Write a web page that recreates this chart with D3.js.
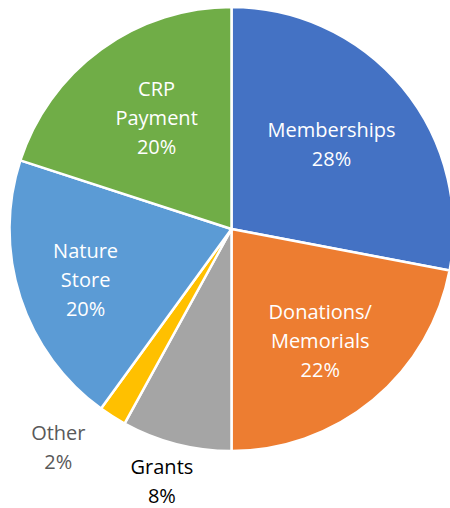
<!DOCTYPE html>
<html>
<head>
<meta charset="utf-8">
<script src="https://cdn.jsdelivr.net/npm/d3@7"></script>
<style>
  body { margin: 0; background: #fff; }
  svg { display: block; }
  text { font-family: "Open Sans", sans-serif; font-size: 20px; }
</style>
</head>
<body>
<script>
// data, clockwise from 12 o'clock
var categories = ["Memberships", "Donations/\nMemorials", "Grants", "Other", "Nature\nStore", "CRP\nPayment"];
var values = [28, 22, 8, 2, 20, 20];
var colors = ["#4472C4", "#ED7D31", "#A5A5A5", "#FFC000", "#5B9BD5", "#70AD47"];

// label placement: radius factor, extra nudge, colour
var labelK = [0.62, 0.62, 1.17, 1.17, 0.62, 0.62];
var labelNudge = [[-6, 3], [1, 6], [-5, 1], [-34, -1], [-15, 8], [6, 0]];
var labelColor = ["#fff", "#fff", "#000", "#595959", "#fff", "#fff"];

var width = 450, height = 508;
var cx = 231.5, cy = 229, radius = 222;
var lineH = 29;

var svg = d3.select("body").append("svg")
    .attr("width", width)
    .attr("height", height);

var g = svg.append("g")
    .attr("transform", "translate(" + cx + "," + cy + ")");

var data = categories.map(function(c, i){
    return {name: c, value: values[i], color: colors[i], idx: i};
});

var pie = d3.pie()
    .value(function(d){ return d.value; })
    .sort(null);

var arc = d3.arc()
    .innerRadius(0)
    .outerRadius(radius);

var arcs = pie(data);

g.selectAll("path.slice")
    .data(arcs)
    .enter()
    .append("path")
    .attr("class", "slice")
    .attr("d", arc)
    .attr("fill", function(d){ return d.data.color; })
    .attr("stroke", "#fff")
    .attr("stroke-width", 2.5)
    .attr("stroke-linejoin", "round");

var total = d3.sum(values);

var labels = g.selectAll("text.lbl")
    .data(arcs)
    .enter()
    .append("text")
    .attr("class", "lbl")
    .attr("text-anchor", "middle")
    .attr("fill", function(d){ return labelColor[d.data.idx]; })
    .each(function(d){
        var i = d.data.idx;
        var r = radius * labelK[i];
        var c = d3.arc().innerRadius(r).outerRadius(r).centroid(d);
        var x = c[0] + labelNudge[i][0];
        var y = c[1] + labelNudge[i][1];
        var lines = d.data.name.split("\n");
        lines.push(Math.round(d.data.value / total * 100) + "%");
        var y0 = y - (lines.length - 1) * lineH / 2 + 7;
        var t = d3.select(this);
        lines.forEach(function(l, k){
            t.append("tspan")
                .attr("x", x)
                .attr("y", y0 + k * lineH)
                .text(l);
        });
    });
</script>
</body>
</html>
